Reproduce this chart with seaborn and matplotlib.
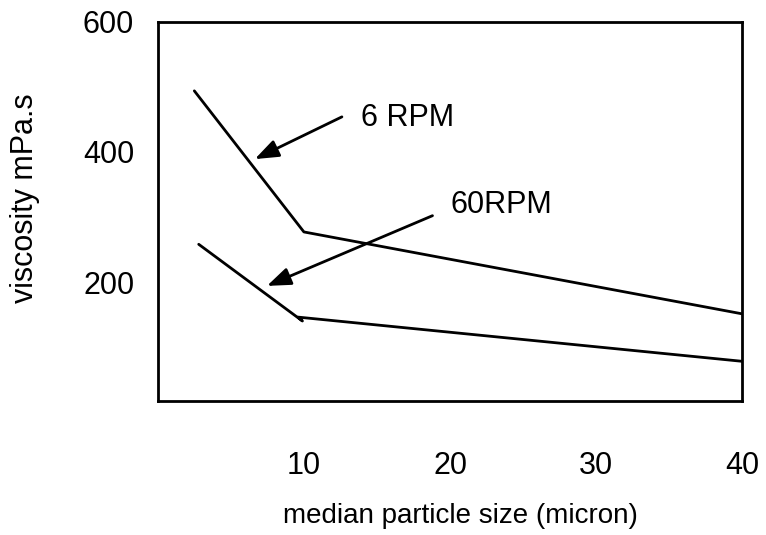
import matplotlib
matplotlib.use("Agg")
import matplotlib.pyplot as plt
import seaborn as sns
import pandas as pd

# Data
x_6rpm = [2.5, 10.0, 40.0]
y_6rpm = [494, 277, 151]
x_60rpm = [2.8, 9.9, 9.6, 40.0]
y_60rpm = [258, 140, 146, 78]
xticks = [10, 20, 30, 40]
yticks = [200, 400, 600]

df = pd.concat([
    pd.DataFrame({"x": x_6rpm, "y": y_6rpm, "series": "6 RPM"}),
    pd.DataFrame({"x": x_60rpm, "y": y_60rpm, "series": "60RPM"}),
])

sns.set_theme(style="white")
plt.rcParams["font.family"] = ["Liberation Sans", "DejaVu Sans"]

fig = plt.figure(figsize=(7.66, 5.35), dpi=100)
ax = fig.add_axes([0.206, 0.2505, 0.763, 0.7085])

sns.lineplot(data=df, x="x", y="y", units="series", estimator=None,
             color="black", linewidth=2, ax=ax, legend=False, sort=False)

ax.set_xlim(0, 40)
ax.set_ylim(17, 600)
ax.set_xticks(xticks)
ax.set_yticks(yticks)
ax.tick_params(axis="both", direction="out", length=10, width=1, color="black",
               labelsize=22, labelcolor="black", pad=7)
ax.tick_params(axis="x", pad=26)
for s in ax.spines.values():
    s.set_color("black")
    s.set_linewidth(2)

ax.set_xlabel("median particle size (micron)", fontsize=20, color="black")
ax.set_ylabel("viscosity mPa.s", fontsize=22, color="black")
ax.xaxis.set_label_coords(0.517, -0.27)
ax.yaxis.set_label_coords(-0.202, 0.536)

arrowprops = dict(arrowstyle="-|>,head_length=1.2,head_width=0.45", color="black", lw=2,
                  shrinkA=0, shrinkB=0)
ax.annotate("", xy=(6.64, 389), xytext=(12.6, 454), arrowprops=arrowprops)
ax.annotate("", xy=(7.47, 194), xytext=(18.8, 302), arrowprops=arrowprops)
ax.text(13.9, 452, "6 RPM", fontsize=22, va="center", ha="left", color="black")
ax.text(20.0, 318, "60RPM", fontsize=22, va="center", ha="left", color="black")

fig.savefig("out.png", dpi=100)
